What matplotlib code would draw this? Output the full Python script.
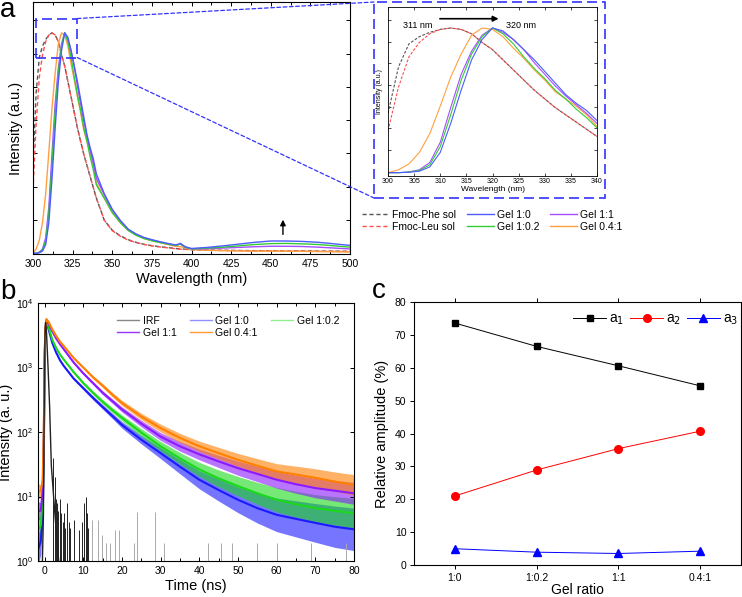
import numpy as np
import matplotlib
matplotlib.use('Agg')
import matplotlib.pyplot as plt
from matplotlib.patches import Rectangle, ConnectionPatch
from matplotlib.lines import Line2D
from matplotlib.ticker import MultipleLocator, FixedLocator, NullLocator, LogLocator

plt.rcParams['font.family'] = ['Liberation Sans', 'DejaVu Sans']

# ---------------- Panel a data (normalised emission) ----------------
wavelength = [300, 302, 304, 306, 308, 310, 312, 314, 316, 318, 320, 322, 324, 326, 328, 330,
              332, 334, 336, 338, 340, 345, 350, 355, 360, 365, 370, 375, 380, 385, 390, 393,
              396, 400, 410, 420, 430, 440, 450, 460, 470, 480, 490, 500]
fmoc_phe_sol = [0.41, 0.73, 0.89, 0.94, 0.97, 0.99, 1.00, 0.99, 0.96, 0.90, 0.85, 0.78, 0.71, 0.64,
                0.57, 0.51, 0.45, 0.40, 0.35, 0.30, 0.25, 0.15, 0.105, 0.08, 0.062, 0.05, 0.041,
                0.035, 0.030, 0.026, 0.022, 0.020, 0.019, 0.017, 0.015, 0.014, 0.013, 0.012, 0.012,
                0.011, 0.011, 0.010, 0.010, 0.009]
fmoc_leu_sol = [0.29, 0.59, 0.80, 0.90, 0.96, 0.99, 1.00, 0.99, 0.96, 0.90, 0.85, 0.78, 0.71, 0.64,
                0.57, 0.51, 0.45, 0.40, 0.35, 0.30, 0.25, 0.15, 0.103, 0.078, 0.060, 0.049, 0.040,
                0.034, 0.029, 0.025, 0.021, 0.019, 0.018, 0.016, 0.014, 0.013, 0.012, 0.011, 0.011,
                0.010, 0.010, 0.009, 0.009, 0.008]
gel_1_0 = [0.0, 0.0, 0.003, 0.01, 0.04, 0.14, 0.34, 0.57, 0.78, 0.92, 1.00, 0.98, 0.92, 0.85, 0.78,
           0.70, 0.62, 0.54, 0.48, 0.43, 0.36, 0.27, 0.20, 0.15, 0.11, 0.088, 0.072, 0.062, 0.053,
           0.045, 0.038, 0.045, 0.030, 0.022, 0.027, 0.034, 0.042, 0.050, 0.056, 0.056, 0.054,
           0.050, 0.043, 0.036]
gel_1_02 = [0.0, 0.0, 0.004, 0.015, 0.055, 0.18, 0.40, 0.64, 0.82, 0.94, 1.00, 0.96, 0.89, 0.80,
            0.72, 0.65, 0.57, 0.51, 0.44, 0.38, 0.31, 0.25, 0.185, 0.14, 0.104, 0.082, 0.067,
            0.057, 0.049, 0.042, 0.036, 0.042, 0.028, 0.020, 0.024, 0.028, 0.034, 0.040, 0.044,
            0.045, 0.043, 0.040, 0.034, 0.028]
gel_1_1 = [0.0, 0.0, 0.005, 0.02, 0.07, 0.21, 0.45, 0.68, 0.84, 0.95, 1.00, 0.97, 0.92, 0.85, 0.76,
           0.68, 0.60, 0.53, 0.47, 0.41, 0.34, 0.265, 0.195, 0.148, 0.108, 0.085, 0.070, 0.060,
           0.051, 0.043, 0.036, 0.042, 0.028, 0.020, 0.021, 0.024, 0.027, 0.030, 0.032, 0.032,
           0.031, 0.028, 0.024, 0.020]
gel_04_1 = [0.0, 0.02, 0.06, 0.14, 0.27, 0.46, 0.66, 0.82, 0.95, 1.00, 0.99, 0.94, 0.86, 0.79, 0.71,
            0.64, 0.56, 0.51, 0.46, 0.40, 0.32, 0.25, 0.185, 0.14, 0.105, 0.083, 0.068, 0.058,
            0.049, 0.040, 0.032, 0.030, 0.025, 0.018, 0.014, 0.012, 0.011, 0.010, 0.010, 0.010,
            0.009, 0.008, 0.007, 0.006]

# ---------------- Panel b data (TCSPC decays, counts) ----------------
time_ns = [-1.7, -1.0, -0.5, -0.2, 0.0, 0.2, 0.5, 1, 2, 3, 4, 5, 7.5, 10, 12.5, 15, 17.5, 20,
           25, 30, 35, 40, 45, 50, 55, 60, 65, 70, 75, 80]
decay_04_1 = [12, 12, 18, 100, 1300, 4000, 5620, 5130, 3890, 3090, 2510, 2140, 1410, 1000, 708,
              525, 380, 282, 174, 115, 81, 60, 47, 37, 30, 24.5, 21.9, 19.5, 17, 15.1]
decay_1_1 = [6, 6, 12, 80, 1200, 3900, 5500, 4900, 3630, 2820, 2290, 1905, 1200, 813, 575, 407,
             302, 224, 135, 85, 60, 45, 35, 27.5, 22.4, 18.2, 15.5, 13.5, 12.3, 11.2]
decay_1_02 = [3, 3.5, 8, 60, 1100, 3800, 5370, 4270, 2690, 2000, 1585, 1320, 851, 575, 407, 295,
              219, 166, 98, 60, 39, 26.3, 19.1, 14.5, 11.2, 8.9, 7.6, 6.6, 6.0, 5.5]
decay_1_0 = [1.5, 2, 5, 40, 1000, 3700, 5250, 3980, 2400, 1700, 1290, 1050, 676, 479, 339, 245,
             178, 129, 76, 47, 29, 18.2, 12.6, 8.9, 6.6, 5.2, 4.5, 3.9, 3.4, 3.1]
# noise half-width of each trace (decades)
noise_04_1 = [0.12, 0.1, 0.06, 0.02, 0.015, 0.015, 0.015, 0.015, 0.015, 0.015, 0.015, 0.015, 0.02,
              0.02, 0.025, 0.03, 0.035, 0.04, 0.05, 0.06, 0.07, 0.08, 0.09, 0.10, 0.11, 0.12, 0.13,
              0.14, 0.15, 0.16]
noise_1_1 = [0.15, 0.12, 0.08, 0.02, 0.015, 0.015, 0.015, 0.015, 0.015, 0.015, 0.015, 0.015, 0.02,
             0.02, 0.025, 0.03, 0.035, 0.04, 0.05, 0.06, 0.075, 0.085, 0.095, 0.11, 0.12, 0.13,
             0.14, 0.15, 0.16, 0.17]
noise_1_02 = [0.2, 0.15, 0.1, 0.03, 0.015, 0.015, 0.015, 0.015, 0.015, 0.015, 0.015, 0.015, 0.02,
              0.025, 0.03, 0.035, 0.04, 0.045, 0.06, 0.075, 0.09, 0.11, 0.13, 0.15, 0.17, 0.19,
              0.2, 0.21, 0.22, 0.23]
noise_1_0 = [0.25, 0.2, 0.15, 0.03, 0.015, 0.015, 0.015, 0.015, 0.015, 0.015, 0.015, 0.015, 0.02,
             0.025, 0.03, 0.035, 0.04, 0.05, 0.065, 0.085, 0.11, 0.14, 0.17, 0.2, 0.23, 0.26, 0.28,
             0.3, 0.32, 0.33]
irf_time = [-1.7, -0.6, -0.3, -0.1, 0.1, 0.25, 0.5, 0.9, 1.3, 1.75, 2.2, 2.6, 3.0, 3.4, 3.8]
irf_counts = [0.5, 0.8, 5, 200, 3000, 5000, 3500, 1000, 250, 30, 13, 6, 3, 1.5, 0.8]
irf_spike_t = [2.3, 2.7, 3.0, 3.3, 3.6, 4.0, 4.3, 4.7, 5.0, 5.4, 5.8, 6.2, 6.6, 9.8, 10.2, 10.6,
               11.0, 11.3, 7.7, 8.8, 12.3, 13.7, 14.8, 16.0, 17.0, 18.3, 19.2, 23.0, 23.9, 28.6,
               31.0, 42.2, 45.6, 48.5, 54.8, 60.1, 68.8, 78.0]
irf_spike_h = [40, 20, 9, 8, 6, 9, 5.6, 4, 5.6, 3.2, 8, 4, 3.2, 4, 8, 10, 5.6, 3.2, 4.3, 3,
               4.3, 4.3, 2.5, 1.9, 1.9, 3, 3, 1.9, 5.8, 5.8, 1.9, 1.9, 1.9, 1.9, 1.9, 1.9, 1.9, 1.9]

# ---------------- Panel c data ----------------
gel_ratio = ['1:0', '1:0.2', '1:1', '0.4:1']
a1 = [73.6, 66.5, 60.6, 54.5]
a2 = [21.0, 28.9, 35.4, 40.7]
a3 = [4.95, 3.9, 3.5, 4.2]

# ---------------- figure ----------------
W, H = 742, 597
fig = plt.figure(figsize=(W / 100, H / 100), dpi=100)

def fx(px):
    return px / W

def fy(py):
    return 1 - py / H

BLUE_A, GREEN_A, PURPLE_A, ORANGE_A = '#4d5cff', '#33cc33', '#a64dff', '#ffa040'
GREY_D, RED_D = '#555555', '#ff4d4d'
BOX = '#3333ff'

# ---- panel a main
ax_a = fig.add_axes([fx(33), fy(254), fx(350 - 33), (254 - 2) / H])
series_a = [(fmoc_phe_sol, GREY_D, '--', 'Fmoc-Phe sol'),
            (fmoc_leu_sol, RED_D, '--', 'Fmoc-Leu sol'),
            (gel_04_1, ORANGE_A, '-', 'Gel 0.4:1'),
            (gel_1_1, PURPLE_A, '-', 'Gel 1:1'),
            (gel_1_02, GREEN_A, '-', 'Gel 1:0.2'),
            (gel_1_0, BLUE_A, '-', 'Gel 1:0')]
handles = {}
for ys, c, ls, lab in series_a:
    ln, = ax_a.plot(wavelength, ys, color=c, ls=ls, lw=1.0,
                    dashes=(3, 2) if ls == '--' else (None, None))
    handles[lab] = ln
ax_a.set_xlim(300, 500)
ax_a.set_ylim(-0.003, 1.14)
ax_a.xaxis.set_major_locator(MultipleLocator(25))
ax_a.xaxis.set_minor_locator(MultipleLocator(12.5))
ax_a.yaxis.set_major_locator(FixedLocator([0.151 * k for k in range(1, 8)]))
ax_a.set_yticklabels([])
ax_a.tick_params(which='both', direction='in', top=True, right=True, labelsize=7.5, width=0.7)
ax_a.tick_params(which='major', length=3)
ax_a.tick_params(which='minor', length=2)
ax_a.tick_params(axis='y', length=3)
ax_a.set_xlabel('Wavelength (nm)', fontsize=10.5, labelpad=2)
ax_a.set_ylabel('Intensity (a.u.)', fontsize=10.5, labelpad=4)
for s in ax_a.spines.values():
    s.set_linewidth(0.8)
ax_a.annotate('', xy=(457.7, 0.165), xytext=(457.7, 0.073),
              arrowprops=dict(arrowstyle='-|>', color='black', lw=1.0, mutation_scale=8))

# zoom box in panel a
zx0, zx1, zy0, zy1 = 301.7, 327.9, 0.888, 1.065
ax_a.add_patch(Rectangle((zx0, zy0), zx1 - zx0, zy1 - zy0, fill=False, ec=BOX, lw=1.2,
                         ls=(0, (6, 3)), zorder=5))

# inset frame (figure coordinates)
ib_x0, ib_x1, ib_y0, ib_y1 = fx(374), fx(605), fy(198), fy(2)
fig.add_artist(Rectangle((ib_x0, ib_y0), ib_x1 - ib_x0, ib_y1 - ib_y0, transform=fig.transFigure,
                         fill=False, ec=BOX, lw=1.2, ls=(0, (6, 3))))
for (ya, yb) in [(zy1, ib_y1), (zy0, ib_y0)]:
    con = ConnectionPatch(xyA=(zx1, ya), coordsA=ax_a.transData,
                          xyB=(ib_x0, yb), coordsB=fig.transFigure,
                          color=BOX, lw=0.9, ls=(0, (3, 2)))
    fig.add_artist(con)

# inset axes
ax_i = fig.add_axes([fx(388), fy(176), fx(597 - 388), (176 - 7) / H])
for ys, c, ls, lab in series_a:
    ax_i.plot(wavelength, ys, color=c, ls=ls, lw=0.8,
              dashes=(2.5, 1.5) if ls == '--' else (None, None))
ax_i.set_xlim(300, 340)
ax_i.set_ylim(-0.023, 1.145)
ax_i.xaxis.set_major_locator(MultipleLocator(5))
ax_i.yaxis.set_major_locator(FixedLocator([0.006 + 0.15 * k for k in range(1, 8)]))
ax_i.set_yticklabels([])
ax_i.tick_params(which='both', direction='in', top=True, right=True, labelsize=5, length=2,
                 width=0.5, pad=1.5)
ax_i.set_xlabel('Wavelength (nm)', fontsize=6, labelpad=1)
ax_i.set_ylabel('Intensity (a.u.)', fontsize=5, labelpad=2)
for s in ax_i.spines.values():
    s.set_linewidth(0.6)
ax_i.annotate('', xy=(321.7, 1.064), xytext=(309.4, 1.064),
              arrowprops=dict(arrowstyle='-|>', color='black', lw=1.2, mutation_scale=8))
ax_i.text(305.6, 1.018, '311 nm', fontsize=6.5, ha='center', va='center')
ax_i.text(325.5, 1.018, '320 nm', fontsize=6.5, ha='center', va='center')

# legend a
order = ['Fmoc-Phe sol', 'Fmoc-Leu sol', 'Gel 1:0', 'Gel 1:0.2', 'Gel 1:1', 'Gel 0.4:1']
leg_h = []
for lab in order:
    h = handles[lab]
    leg_h.append(Line2D([], [], color=h.get_color(), ls=h.get_linestyle(), lw=1.0,
                        dashes=(3, 2) if h.get_linestyle() == '--' else (None, None)))
fig.legend(leg_h, order, loc='upper left', bbox_to_anchor=(fx(362), fy(210)), ncol=3,
           fontsize=7.5, frameon=False, handlelength=2.6, handletextpad=0.3,
           columnspacing=1.0, labelspacing=0.15, borderpad=0, borderaxespad=0)

# ---- panel b
ax_b = fig.add_axes([fx(38), fy(561), fx(354 - 38), (561 - 303) / H])
ORANGE_B, PURPLE_B, GREEN_B, BLUE_B = '#ff8000', '#8c1aff', '#1ad91a', '#1a1aff'
t = np.array(time_ns)
for ys, nz, c in [(decay_1_0, noise_1_0, BLUE_B), (decay_1_02, noise_1_02, GREEN_B),
                  (decay_1_1, noise_1_1, PURPLE_B), (decay_04_1, noise_04_1, ORANGE_B)]:
    y = np.array(ys, float)
    f = 10 ** np.array(nz)
    ax_b.fill_between(t, y / f, y * f, color=c, alpha=0.6, lw=0)
    ax_b.plot(t, y, color=c, lw=1.5)
for ts, hs in zip(irf_spike_t, irf_spike_h):
    ax_b.vlines(ts, 0.5, hs, color='#222222' if ts < 12 else '#aaaaaa', lw=0.7)
ax_b.plot(irf_time, irf_counts, color='#222222', lw=1.0)
ax_b.set_yscale('log')
ax_b.set_ylim(1, 1e4)
ax_b.set_xlim(-1.7, 80)
ax_b.xaxis.set_major_locator(MultipleLocator(10))
ax_b.xaxis.set_minor_locator(MultipleLocator(5))
ax_b.yaxis.set_major_locator(LogLocator(base=10, numticks=10))
ax_b.yaxis.set_minor_locator(NullLocator())
ax_b.tick_params(which='both', direction='in', top=True, right=True, labelsize=7.5, width=0.7)
ax_b.tick_params(which='major', length=3)
ax_b.tick_params(which='minor', length=2)
ax_b.set_xlabel('Time (ns)', fontsize=10.5, labelpad=2)
ax_b.set_ylabel('Intensity (a. u.)', fontsize=10.5, labelpad=2)
for s in ax_b.spines.values():
    s.set_linewidth(0.8)
lb_labels = ['IRF', 'Gel 1:1', 'Gel 1:0', 'Gel 0.4:1', 'Gel 1:0.2']
lb_cols = ['#888888', '#9933ff', '#9090ff', '#ff9933', '#90ee90']
lb_h = [Line2D([], [], color=c, lw=1.0) for c in lb_cols]
fig.legend(lb_h, lb_labels, loc='upper left', bbox_to_anchor=(fx(117), fy(316)),
           ncol=3, fontsize=7.5, frameon=False, handlelength=2.1, handletextpad=0.35,
           columnspacing=1.3, labelspacing=0.2, borderpad=0, borderaxespad=0)

# ---- panel c
ax_c = fig.add_axes([fx(414), fy(565), fx(741 - 414), (565 - 302) / H])
xc = np.arange(len(gel_ratio))
ax_c.plot(xc, a1, color='black', lw=0.7, marker='s', ms=5, label='a$_1$')
ax_c.plot(xc, a2, color='#ff0000', lw=0.7, marker='o', ms=5.5, label='a$_2$')
ax_c.plot(xc, a3, color='#0000ff', lw=0.7, marker='^', ms=5.5, label='a$_3$')
ax_c.set_xlim(-0.5, 3.5)
ax_c.set_ylim(0, 80)
ax_c.set_xticks(xc)
ax_c.set_xticklabels(gel_ratio)
ax_c.yaxis.set_major_locator(MultipleLocator(10))
ax_c.tick_params(which='both', direction='out', top=True, right=True, labelsize=7.5,
                 length=3, width=0.7, pad=2.5)
ax_c.set_xlabel('Gel ratio', fontsize=10, labelpad=0.5)
ax_c.set_ylabel('Relative amplitude (%)', fontsize=10.5, labelpad=4)
for s in ax_c.spines.values():
    s.set_linewidth(0.8)
ax_c.legend(loc='upper right', bbox_to_anchor=(fx(738), fy(312)), bbox_transform=fig.transFigure,
            ncol=3, fontsize=10, frameon=False, handlelength=2.4,
            handletextpad=0.2, columnspacing=0.4, borderpad=0, borderaxespad=0)

# panel letters
fig.text(fx(0), fy(17), 'a', fontsize=20, va='baseline', ha='left')
fig.text(fx(0), fy(299), 'b', fontsize=20, va='baseline', ha='left')
fig.text(fx(372), fy(298), 'c', fontsize=20, va='baseline', ha='left')

fig.savefig('out.png', dpi=100)
